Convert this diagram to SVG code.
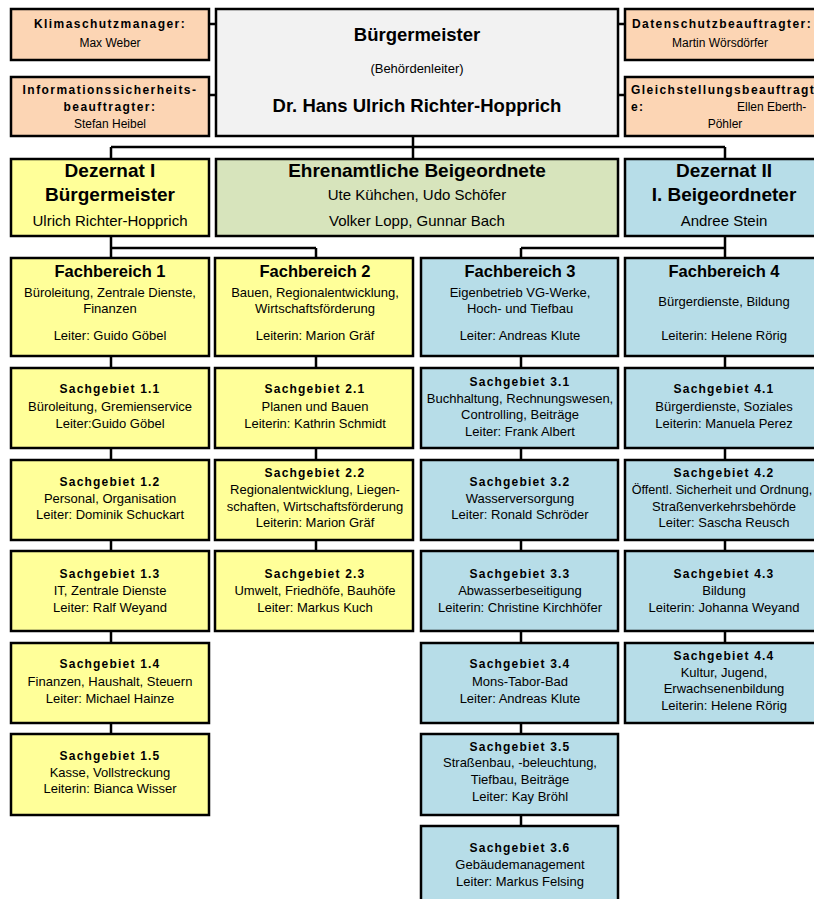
<svg xmlns="http://www.w3.org/2000/svg" width="814" height="899" viewBox="0 0 814 899">
<style>
rect.b{stroke:#000;stroke-width:2.5}
.peach{fill:#FCD5B4}.grey{fill:#F2F2F2}.yel{fill:#FFFF99}.grn{fill:#D7E4BC}.blu{fill:#B7DDE8}
text{font-family:"Liberation Sans",Arial,sans-serif;fill:#000;text-anchor:middle}
.h1{font-size:18.5px;font-weight:bold}
.h2{font-size:19px;font-weight:bold}
.n2{font-size:15px}
.h3{font-size:16.5px;font-weight:bold}
.t{font-size:13px}
.s{font-size:12px;font-weight:bold;letter-spacing:1.2px}
.k{font-size:12px;font-weight:bold;letter-spacing:1.45px}
.p{font-size:12px}
.st{text-anchor:start}
#conn path{fill:none;stroke:#000;stroke-width:2.5}
</style>
<rect width="814" height="899" fill="#fff"/>
<g id="conn">
<path d="M209,24H216M209,95H216M618,24H625M618,95H625"/>
<path d="M413,136V159M111,147H725M111,147V159M725,147V159"/>
<path d="M111,236V734M111,248H316M316,248V551"/>
<path d="M725,236V643M521,248H725M521,248V826"/>
</g>
<g id="klima"><rect class="b peach" x="11" y="9" width="198" height="51"/>
<text class="k" x="110" y="28">Klimaschutzmanager:</text><text class="p" x="110" y="47">Max Weber</text></g>
<g id="info"><rect class="b peach" x="11" y="77" width="198" height="59"/>
<text class="k" x="110" y="94">Informationssicherheits-</text><text class="k" x="110" y="111">beauftragter:</text><text class="p" x="110" y="128">Stefan Heibel</text></g>
<g id="bm"><rect class="b grey" x="216" y="9" width="402" height="127"/>
<text class="h1" x="417" y="41">Bürgermeister</text><text class="t" x="417" y="73">(Behördenleiter)</text><text class="h1" x="417" y="112">Dr. Hans Ulrich Richter-Hopprich</text></g>
<g id="daten"><rect class="b peach" x="625" y="9" width="198" height="51"/>
<text class="k" x="722" y="28">Datenschutzbeauftragter:</text><text class="p" x="720" y="47">Martin Wörsdörfer</text></g>
<g id="gleich"><rect class="b peach" x="625" y="77" width="198" height="59"/>
<text class="k st" x="631" y="94">Gleichstellungsbeauftragte:</text><text class="k st" x="631" y="111">e:</text><text class="p st" x="737" y="111">Ellen Eberth-</text><text class="p" x="725" y="128">Pöhler</text></g>
<g id="dez1"><rect class="b yel" x="11" y="159" width="198" height="77"/>
<text class="h2" x="110" y="177">Dezernat I</text><text class="h2" x="110" y="201">Bürgermeister</text><text class="n2" x="110" y="226">Ulrich Richter-Hopprich</text></g>
<g id="ehren"><rect class="b grn" x="216" y="159" width="402" height="77"/>
<text class="h2" x="417" y="177">Ehrenamtliche Beigeordnete</text><text class="n2" x="417" y="200">Ute Kühchen, Udo Schöfer</text><text class="n2" x="417" y="226">Volker Lopp, Gunnar Bach</text></g>
<g id="dez2"><rect class="b blu" x="625" y="159" width="198" height="77"/>
<text class="h2" x="724" y="177">Dezernat II</text><text class="h2" x="724" y="201">I. Beigeordneter</text><text class="n2" x="724" y="226">Andree Stein</text></g>
<g id="fb1"><rect class="b yel" x="11" y="258" width="198" height="98"/>
<text class="h3" x="110" y="277">Fachbereich 1</text><text class="t" x="110" y="297">Büroleitung, Zentrale Dienste,</text><text class="t" x="110" y="313">Finanzen</text><text class="t" x="110" y="340">Leiter: Guido Göbel</text></g>
<g id="fb2"><rect class="b yel" x="215" y="258" width="198" height="98"/>
<text class="h3" x="315" y="277">Fachbereich 2</text><text class="t" x="315" y="297">Bauen, Regionalentwicklung,</text><text class="t" x="315" y="313">Wirtschaftsförderung</text><text class="t" x="315" y="340">Leiterin: Marion Gräf</text></g>
<g id="fb3"><rect class="b blu" x="421" y="258" width="197" height="98"/>
<text class="h3" x="520" y="277">Fachbereich 3</text><text class="t" x="520" y="297">Eigenbetrieb VG-Werke,</text><text class="t" x="520" y="313">Hoch- und Tiefbau</text><text class="t" x="520" y="340">Leiter: Andreas Klute</text></g>
<g id="fb4"><rect class="b blu" x="625" y="258" width="198" height="98"/>
<text class="h3" x="724" y="277">Fachbereich 4</text><text class="t" x="724" y="306">Bürgerdienste, Bildung</text><text class="t" x="724" y="340">Leiterin: Helene Rörig</text></g>
<g id="sg11"><rect class="b yel" x="11" y="368" width="198" height="80"/>
<text class="s" x="110" y="393">Sachgebiet 1.1</text><text class="t" x="110" y="411">Büroleitung, Gremienservice</text><text class="t" x="110" y="428">Leiter:Guido Göbel</text></g>
<g id="sg21"><rect class="b yel" x="215" y="368" width="198" height="80"/>
<text class="s" x="315" y="393">Sachgebiet 2.1</text><text class="t" x="315" y="411">Planen und Bauen</text><text class="t" x="315" y="428">Leiterin: Kathrin Schmidt</text></g>
<g id="sg31"><rect class="b blu" x="421" y="368" width="197" height="80"/>
<text class="s" x="520" y="386">Sachgebiet 3.1</text><text class="t" x="520" y="403">Buchhaltung, Rechnungswesen,</text><text class="t" x="520" y="419">Controlling, Beiträge</text><text class="t" x="520" y="436">Leiter: Frank Albert</text></g>
<g id="sg41"><rect class="b blu" x="625" y="368" width="198" height="80"/>
<text class="s" x="724" y="393">Sachgebiet 4.1</text><text class="t" x="724" y="411">Bürgerdienste, Soziales</text><text class="t" x="724" y="428">Leiterin: Manuela Perez</text></g>
<g id="sg12"><rect class="b yel" x="11" y="460" width="198" height="80"/>
<text class="s" x="110" y="486">Sachgebiet 1.2</text><text class="t" x="110" y="503">Personal, Organisation</text><text class="t" x="110" y="519">Leiter: Dominik Schuckart</text></g>
<g id="sg22"><rect class="b yel" x="215" y="460" width="198" height="80"/>
<text class="s" x="315" y="477">Sachgebiet 2.2</text><text class="t" x="315" y="494">Regionalentwicklung, Liegen-</text><text class="t" x="315" y="511">schaften, Wirtschaftsförderung</text><text class="t" x="315" y="527">Leiterin: Marion Gräf</text></g>
<g id="sg32"><rect class="b blu" x="421" y="460" width="197" height="80"/>
<text class="s" x="520" y="486">Sachgebiet 3.2</text><text class="t" x="520" y="503">Wasserversorgung</text><text class="t" x="520" y="519">Leiter: Ronald Schröder</text></g>
<g id="sg42"><rect class="b blu" x="625" y="460" width="198" height="80"/>
<text class="s" x="724" y="477">Sachgebiet 4.2</text><text class="t" x="722" y="494" style="font-size:12.6px">Öffentl. Sicherheit und Ordnung,</text><text class="t" x="724" y="511">Straßenverkehrsbehörde</text><text class="t" x="724" y="527">Leiter: Sascha Reusch</text></g>
<g id="sg13"><rect class="b yel" x="11" y="551" width="198" height="80"/>
<text class="s" x="110" y="578">Sachgebiet 1.3</text><text class="t" x="110" y="595">IT, Zentrale Dienste</text><text class="t" x="110" y="612">Leiter: Ralf Weyand</text></g>
<g id="sg23"><rect class="b yel" x="215" y="551" width="198" height="80"/>
<text class="s" x="315" y="578">Sachgebiet 2.3</text><text class="t" x="315" y="595">Umwelt, Friedhöfe, Bauhöfe</text><text class="t" x="315" y="612">Leiter: Markus Kuch</text></g>
<g id="sg33"><rect class="b blu" x="421" y="551" width="197" height="80"/>
<text class="s" x="520" y="578">Sachgebiet 3.3</text><text class="t" x="520" y="595">Abwasserbeseitigung</text><text class="t" x="520" y="612">Leiterin: Christine Kirchhöfer</text></g>
<g id="sg43"><rect class="b blu" x="625" y="551" width="198" height="80"/>
<text class="s" x="724" y="578">Sachgebiet 4.3</text><text class="t" x="724" y="595">Bildung</text><text class="t" x="724" y="612">Leiterin: Johanna Weyand</text></g>
<g id="sg14"><rect class="b yel" x="11" y="643" width="198" height="80"/>
<text class="s" x="110" y="668">Sachgebiet 1.4</text><text class="t" x="110" y="686">Finanzen, Haushalt, Steuern</text><text class="t" x="110" y="703">Leiter: Michael Hainze</text></g>
<g id="sg34"><rect class="b blu" x="421" y="643" width="197" height="80"/>
<text class="s" x="520" y="668">Sachgebiet 3.4</text><text class="t" x="520" y="686">Mons-Tabor-Bad</text><text class="t" x="520" y="703">Leiter: Andreas Klute</text></g>
<g id="sg44"><rect class="b blu" x="625" y="643" width="198" height="80"/>
<text class="s" x="724" y="660">Sachgebiet 4.4</text><text class="t" x="724" y="677">Kultur, Jugend,</text><text class="t" x="724" y="693">Erwachsenenbildung</text><text class="t" x="724" y="710">Leiterin: Helene Rörig</text></g>
<g id="sg15"><rect class="b yel" x="11" y="734" width="198" height="81"/>
<text class="s" x="110" y="760">Sachgebiet 1.5</text><text class="t" x="110" y="777">Kasse, Vollstreckung</text><text class="t" x="110" y="793">Leiterin: Bianca Wisser</text></g>
<g id="sg35"><rect class="b blu" x="421" y="734" width="197" height="81"/>
<text class="s" x="520" y="751">Sachgebiet 3.5</text><text class="t" x="520" y="767">Straßenbau, -beleuchtung,</text><text class="t" x="520" y="784">Tiefbau, Beiträge</text><text class="t" x="520" y="801">Leiter: Kay Bröhl</text></g>
<g id="sg36"><rect class="b blu" x="421" y="826" width="197" height="80"/>
<text class="s" x="520" y="852">Sachgebiet 3.6</text><text class="t" x="520" y="869">Gebäudemanagement</text><text class="t" x="520" y="886">Leiter: Markus Felsing</text></g>
</svg>
